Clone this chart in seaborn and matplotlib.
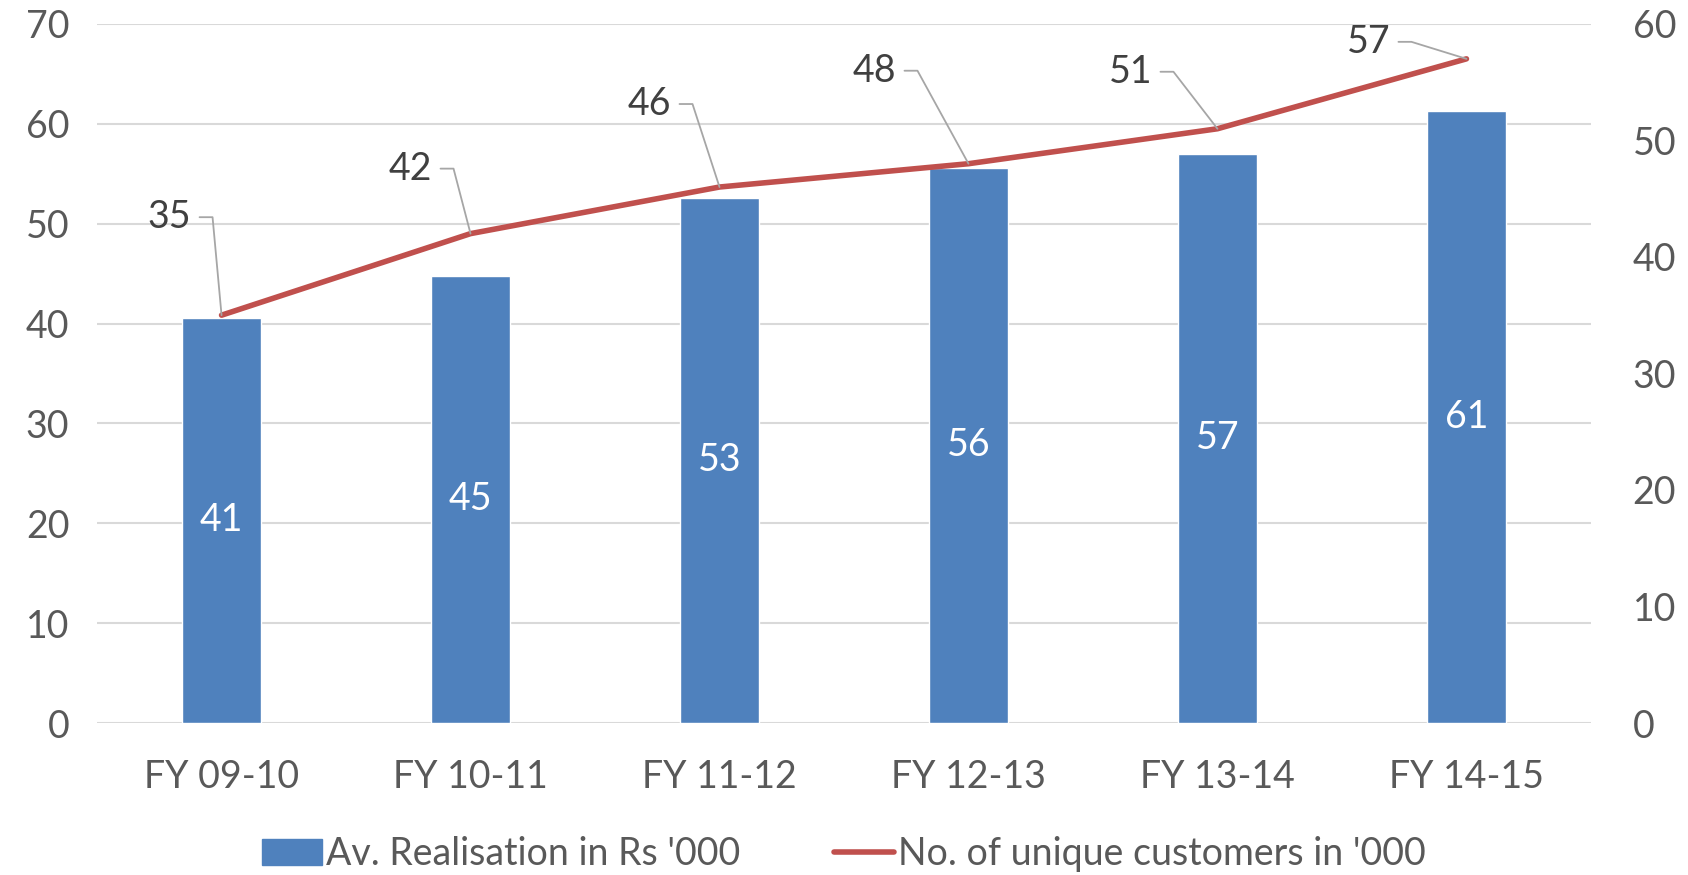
# imports
import numpy as np
import pandas as pd
import matplotlib.pyplot as plt
import seaborn as sns
from matplotlib.lines import Line2D
from matplotlib.patches import Patch

# data
years = ["FY 09-10", "FY 10-11", "FY 11-12", "FY 12-13", "FY 13-14", "FY 14-15"]
realisation = [40.6, 44.8, 52.6, 55.6, 57.0, 61.3]
customers = [35, 42, 46, 48, 51, 57]

# label offsets in pixels (label centre relative to line point)
lab_dx = [-52, -60, -70, -94, -87, -98]
lab_dy = [98, 65, 83, 93, 57, 17]

bar_col = "#4F81BD"
line_col = "#C0504D"
grid_col = "#D9D9D9"
tick_col = "#595959"
fs = 27

sns.set_theme(style="white")
plt.rcParams['font.family'] = ['Lato', 'DejaVu Sans']

df = pd.DataFrame({"year": years, "real": realisation, "cust": customers})

fig = plt.figure(figsize=(16.88, 8.75), dpi=100)
ax = fig.add_axes([0.0575, 0.1737, 0.885, 0.799])

sns.barplot(data=df, x="year", y="real", color=bar_col, saturation=1, width=0.315, ax=ax)
ax.bar_label(ax.containers[0], fmt="%.0f", label_type="center", color="white", fontsize=fs)

ax.set_ylim(0, 70)
ax.set_yticks(range(0, 71, 10))
ax.set_xlim(-0.5, 5.5)
ax.grid(axis="y", color=grid_col, linewidth=1.5)
ax.set_axisbelow(True)
ax.set_xlabel("")
ax.set_ylabel("")
for s in ax.spines.values():
    s.set_visible(False)
ax.tick_params(axis="y", length=0, pad=20, labelsize=fs, labelcolor=tick_col)
ax.tick_params(axis="x", length=0, pad=26, labelsize=fs, labelcolor=tick_col)

ax2 = ax.twinx()
sns.lineplot(x=np.arange(len(years)), y=df["cust"], color=line_col, linewidth=4, ax=ax2)
ax2.set_ylim(0, 60)
ax2.set_yticks(range(0, 61, 10))
ax2.set_xlim(-0.5, 5.5)
ax2.set_ylabel("")
for s in ax2.spines.values():
    s.set_visible(False)
ax2.tick_params(axis="y", length=0, pad=30, labelsize=fs, labelcolor=tick_col)

# data labels with leader lines (drawn in pixel space)
for i, v in enumerate(customers):
    dx, dy = lab_dx[i], lab_dy[i]
    ax2.annotate(str(v), xy=(i, v), xytext=(dx, dy), textcoords="offset pixels",
                 ha="center", va="center", fontsize=fs, color="#404040")
    px, py = ax2.transData.transform((i, v))
    xs = [px + dx + 30, px + dx + 43, px]
    ys = [py + dy, py + dy, py]
    fig.add_artist(Line2D(xs, ys, transform=None, color="#A6A6A6", lw=1.3, zorder=5))

# legend
handles = [Patch(facecolor=bar_col, edgecolor=bar_col),
           Line2D([0], [0], color=line_col, lw=4)]
labels = ["Av. Realisation in Rs '000", "No. of unique customers in '000"]
fig.legend(handles, labels, loc="center", bbox_to_anchor=(0.5, 0.024), ncol=2, frameon=False,
           fontsize=fs, labelcolor=tick_col, handlelength=1.6, handletextpad=0.1, columnspacing=2.5)

fig.savefig("out.png", dpi=100)
